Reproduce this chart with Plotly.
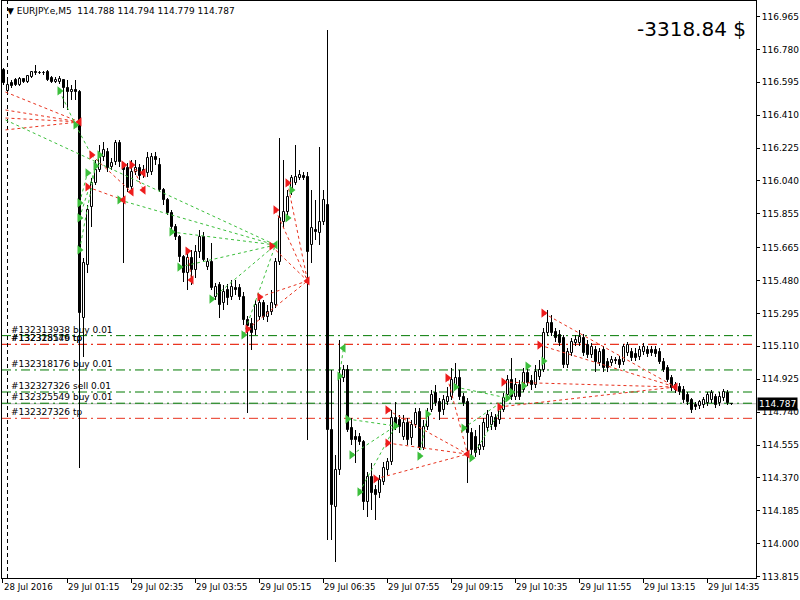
import plotly.graph_objects as go

# ---------------- candle data (EURJPY.e, M5) ----------------
bar_index = list(range(183))
open_ = [116.664,116.546,116.591,116.608,116.580,116.614,116.597,116.625,116.653,116.647,
116.648,116.653,116.619,116.597,116.597,116.608,116.563,116.540,116.552,116.540,
115.269,115.567,115.894,116.029,116.102,116.175,116.203,116.119,116.147,116.254,
116.130,116.113,116.006,116.091,116.113,116.102,116.085,116.091,116.175,116.130,
115.989,115.933,115.860,115.781,115.725,115.612,115.522,115.607,115.539,115.641,
115.725,115.556,115.584,115.387,115.455,115.354,115.427,115.387,115.438,115.438,
115.387,115.258,115.236,115.202,115.275,115.354,115.275,115.303,115.342,115.584,
115.809,115.866,115.989,116.029,116.057,116.068,116.062,115.680,115.764,115.747,
115.809,115.905,114.639,114.206,114.414,114.932,114.977,114.650,114.600,114.600,
114.572,114.234,114.375,114.302,114.285,114.347,114.414,114.459,114.707,114.695,
114.600,114.679,114.594,114.667,114.741,114.538,114.656,114.752,114.847,114.797,
114.752,114.797,114.825,114.892,114.932,114.825,114.797,114.622,114.600,114.527,
114.544,114.650,114.667,114.707,114.695,114.752,114.836,114.920,114.825,114.892,
114.864,114.960,114.915,114.892,114.937,114.977,115.185,115.241,115.191,115.174,
115.157,115.005,115.072,115.129,115.129,115.157,115.117,115.061,115.089,115.016,
115.089,115.022,115.016,115.033,115.033,115.022,115.072,115.078,115.067,115.050,
115.078,115.089,115.089,115.087,115.078,115.022,114.988,114.932,114.892,114.881,
114.864,114.836,114.808,114.780,114.774,114.780,114.791,114.808,114.825,114.791,
114.819,114.847,114.788]
high = [116.675,116.608,116.608,116.619,116.625,116.619,116.636,116.659,116.692,116.659,
116.659,116.664,116.630,116.625,116.630,116.614,116.608,116.580,116.608,116.552,
115.607,115.905,116.057,116.158,116.242,116.259,116.226,116.169,116.270,116.270,
116.147,116.141,116.158,116.158,116.136,116.130,116.203,116.197,116.203,116.169,
116.000,115.944,115.877,115.798,115.736,115.624,115.652,115.652,115.680,115.764,
115.753,115.607,115.691,115.466,115.472,115.455,115.461,115.483,115.483,115.461,
115.416,115.281,115.269,115.370,115.382,115.370,115.342,115.427,115.607,116.282,
116.158,115.989,116.074,116.242,116.102,116.091,116.091,115.989,115.933,116.231,
115.989,116.889,114.977,114.499,115.145,115.005,115.005,114.707,114.639,114.622,
114.583,114.403,114.454,114.330,114.386,114.459,114.482,114.752,114.797,114.724,
114.724,114.707,114.695,114.763,114.763,114.695,114.763,114.864,114.892,114.819,
114.836,114.881,114.988,115.016,114.977,114.847,114.819,114.650,114.639,114.667,
114.707,114.752,114.741,114.729,114.780,114.847,114.949,115.044,114.932,114.920,
114.988,114.988,114.949,115.005,115.033,115.213,115.314,115.286,115.213,115.202,
115.174,115.100,115.157,115.174,115.202,115.179,115.145,115.129,115.112,115.100,
115.112,115.044,115.056,115.050,115.056,115.123,115.134,115.100,115.100,115.112,
115.129,115.112,115.112,115.110,115.100,115.044,115.005,114.949,114.909,114.904,
114.887,114.853,114.819,114.797,114.808,114.825,114.853,114.864,114.842,114.853,
114.870,114.864,114.794]
low = [116.580,116.535,116.563,116.574,116.574,116.591,116.591,116.619,116.636,116.642,
116.636,116.602,116.591,116.591,116.585,116.450,116.439,116.495,116.495,114.426,
115.050,115.522,115.781,116.017,116.091,116.150,116.091,116.102,116.130,116.119,
115.579,115.978,115.989,116.074,116.046,116.057,116.062,116.074,116.130,115.978,
115.905,115.849,115.764,115.708,115.584,115.472,115.427,115.455,115.494,115.607,
115.584,115.539,115.427,115.370,115.269,115.314,115.342,115.370,115.399,115.370,
115.230,114.735,115.089,115.174,115.258,115.258,115.247,115.286,115.325,115.567,
115.775,115.849,115.961,116.017,116.046,116.046,114.583,115.579,115.708,115.680,
115.792,114.021,114.021,113.897,114.386,114.909,114.628,114.555,114.454,114.555,
114.189,114.150,114.189,114.133,114.257,114.330,114.386,114.442,114.639,114.622,
114.583,114.555,114.555,114.650,114.527,114.527,114.639,114.741,114.774,114.695,
114.724,114.780,114.808,114.875,114.808,114.774,114.341,114.499,114.487,114.499,
114.527,114.628,114.639,114.639,114.673,114.741,114.819,114.808,114.808,114.808,
114.853,114.887,114.864,114.875,114.920,114.966,115.168,115.168,115.134,115.112,
114.988,114.988,115.056,115.112,115.112,115.056,115.044,115.044,114.966,114.999,
114.966,114.966,114.999,115.011,114.988,115.005,115.056,115.027,115.027,115.033,
115.061,115.050,115.056,115.050,115.011,114.966,114.909,114.859,114.847,114.836,
114.791,114.780,114.735,114.752,114.757,114.763,114.774,114.791,114.763,114.774,
114.802,114.780,114.779]
close = [116.591,116.580,116.574,116.580,116.614,116.597,116.630,116.653,116.647,116.648,
116.647,116.608,116.597,116.608,116.614,116.563,116.540,116.552,116.540,115.297,
115.579,115.877,116.029,116.102,116.175,116.214,116.113,116.141,116.254,116.147,
116.102,116.000,116.091,116.113,116.068,116.074,116.169,116.175,116.158,115.989,
115.933,115.860,115.781,115.725,115.612,115.522,115.607,115.539,115.641,115.725,
115.595,115.584,115.438,115.444,115.342,115.416,115.382,115.444,115.427,115.387,
115.258,115.224,115.185,115.342,115.354,115.275,115.303,115.354,115.584,115.832,
115.866,115.950,116.057,116.062,116.074,116.057,115.641,115.775,115.753,115.809,
115.933,114.639,114.217,114.414,114.937,114.977,114.639,114.583,114.583,114.572,
114.234,114.375,114.285,114.274,114.358,114.426,114.459,114.707,114.667,114.656,
114.679,114.583,114.667,114.735,114.538,114.656,114.735,114.836,114.791,114.741,
114.808,114.825,114.920,114.932,114.825,114.791,114.622,114.527,114.510,114.555,
114.679,114.724,114.712,114.656,114.763,114.819,114.920,114.825,114.892,114.825,
114.960,114.904,114.892,114.966,114.977,115.185,115.241,115.185,115.157,115.129,
115.005,115.078,115.134,115.145,115.162,115.072,115.061,115.106,115.022,115.078,
114.988,114.988,115.033,115.027,115.005,115.106,115.117,115.044,115.044,115.089,
115.106,115.067,115.072,115.065,115.022,114.977,114.920,114.875,114.864,114.853,
114.808,114.797,114.752,114.769,114.797,114.808,114.836,114.847,114.780,114.825,
114.853,114.791,114.787]

# ---------------- axis labels ----------------
time_tick_bars = [0, 16, 32, 48, 64, 80, 96, 112, 128, 144, 160, 176]
time_tick_labels = ["28 Jul 2016", "29 Jul 01:15", "29 Jul 02:35", "29 Jul 03:55",
                    "29 Jul 05:15", "29 Jul 06:35", "29 Jul 07:55", "29 Jul 09:15",
                    "29 Jul 10:35", "29 Jul 11:55", "29 Jul 13:15", "29 Jul 14:35"]
price_ticks = [116.965, 116.780, 116.595, 116.410, 116.225, 116.040, 115.855, 115.665,
               115.480, 115.295, 115.110, 114.925, 114.740, 114.555, 114.370, 114.185,
               114.000, 113.815]
day_separator_bar = 1

# ---------------- order lines ----------------
order_labels = ["#132313938 buy 0.01", "#132318176 tp", "#132325549 tp", "#132318176 buy 0.01",
                "#132327326 sell 0.01", "#132325549 buy 0.01", "#132327326 tp"]
order_prices = [115.170, 115.121, 115.121, 114.977, 114.853, 114.790, 114.705]
order_kinds = ["open", "tp", "tp", "open", "open", "open", "tp"]
bid_price = 114.787
pnl_text = "-3318.84 $"
header_text = "EURJPY.e,M5  114.788 114.794 114.779 114.787"

# ---------------- trade history (open bar, open price, close bar, close price) ----------------
sell_x0 = [0.5, 0.5, 0.5, 0.5, 22, 21, 30, 32, 46, 64, 61, 67, 68, 71, 96, 96, 93, 111, 135, 134, 125, 124]
sell_p0 = [116.540, 116.439, 116.394, 116.327, 116.186, 116.006, 116.130, 116.130, 115.646, 115.387,
           115.207, 115.674, 115.877, 116.029, 114.752, 114.566, 114.364, 114.932, 115.297, 115.117,
           114.909, 114.769]
sell_x1 = [19, 19, 19, 19, 32, 30, 35, 35, 47, 76, 76, 76, 76, 76, 116, 116, 116, 116, 168, 168, 168, 168]
sell_p1 = [116.372, 116.372, 116.372, 116.372, 115.978, 115.933, 116.085, 115.989, 115.483, 115.478,
           115.478, 115.478, 115.478, 115.478, 114.504, 114.504, 114.504, 114.504, 114.881, 114.881,
           114.881, 114.881]
buy_x0 = [14, 0.5, 29, 42, 44, 52, 60, 18, 19, 19, 19, 84, 86, 87, 89, 104, 113, 115, 117]
buy_p0 = [116.546, 116.383, 115.933, 115.753, 115.556, 115.376, 115.174, 116.355, 115.916, 115.832,
          115.652, 114.943, 114.701, 114.499, 114.291, 114.493, 114.881, 114.650, 114.482]
buy_x1 = [18, 68, 68, 68, 68, 68, 68, 22, 21, 24, 23, 85, 98, 98, 98, 106, 126, 126, 127]
buy_p1 = [116.355, 115.680, 115.680, 115.680, 115.680, 115.680, 115.680, 116.186, 116.085, 116.186,
          116.124, 115.100, 114.662, 114.662, 114.662, 114.729, 114.819, 114.819, 114.853]

# arrows
green_right_bar = [14, 18, 24, 23, 21, 19, 19, 19, 29, 42, 44, 52, 60, 71, 72, 84, 86, 98, 87, 89,
                   104, 106, 113, 115, 117, 126, 127, 130, 131, 135]
green_right_price = [116.546, 116.355, 116.186, 116.124, 116.085, 115.916, 115.832, 115.652, 115.933,
                     115.753, 115.556, 115.376, 115.174, 115.832, 115.989, 114.943, 114.701, 114.662,
                     114.499, 114.291, 114.493, 114.729, 114.881, 114.650, 114.482, 114.819, 114.853,
                     114.887, 114.999, 115.027]
green_left_bar = [68, 85]
green_left_price = [115.680, 115.100]
red_right_bar = [22, 21, 30, 32, 46, 64, 61, 67, 68, 71, 96, 96, 93, 111, 125, 124, 135, 134]
red_right_price = [116.186, 116.006, 116.130, 116.130, 115.646, 115.387, 115.207, 115.674, 115.877,
                   116.029, 114.752, 114.566, 114.364, 114.932, 114.909, 114.769, 115.297, 115.117]
red_left_bar = [19, 30, 35, 35, 32, 47, 76, 116, 168]
red_left_price = [116.372, 115.933, 116.085, 115.989, 115.978, 115.483, 115.478, 114.504, 114.881]

# ---------------- styling ----------------
FONT = "DejaVu Sans"
GREEN_LINE = "#007a00"
RED_LINE = "#e8321e"
GREEN_MARK = "#3cbf3c"
RED_MARK = "#ee1c1c"


def seg_xy(x0, p0, x1, p1):
    xs, ys = [], []
    for a, b, c, d in zip(x0, p0, x1, p1):
        xs += [a, c, None]
        ys += [b, d, None]
    return xs, ys


fig = go.Figure()

# bid line (under everything)
fig.add_shape(type="line", xref="paper", x0=0, x1=1, yref="y", y0=bid_price, y1=bid_price,
              line=dict(color="#b8b8b8", width=1), layer="below")

# order lines
for lbl, pr, kind in zip(order_labels, order_prices, order_kinds):
    col = GREEN_LINE if kind == "open" else RED_LINE
    fig.add_shape(type="line", xref="paper", x0=0, x1=1, yref="y", y0=pr, y1=pr,
                  line=dict(color=col, width=1, dash="9px,4px,2px,4px"), layer="below")
    fig.add_annotation(x=1.3, y=pr, xref="x", yref="y", text=lbl, showarrow=False,
                       xanchor="left", yanchor="bottom", yshift=-1,
                       font=dict(family=FONT, size=9, color="black"))

# day separator
fig.add_shape(type="line", xref="x", x0=day_separator_bar, x1=day_separator_bar, yref="paper",
              y0=0, y1=1, line=dict(color="black", width=1, dash="4px,3px"), layer="below")

# candles: wicks (thin bars low->high) then bodies (open->close)
wick_len = [h - l for h, l in zip(high, low)]
body_len = [c - o for o, c in zip(open_, close)]
body_col = ["white" if c >= o else "black" for o, c in zip(open_, close)]
fig.add_trace(go.Bar(x=bar_index, y=wick_len, base=low, width=0.25,
                     marker=dict(color="black", line=dict(width=0)),
                     hoverinfo="skip", showlegend=False))
fig.add_trace(go.Bar(x=bar_index, y=body_len, base=open_, width=0.5,
                     marker=dict(color=body_col, line=dict(color="black", width=1)),
                     hoverinfo="skip", showlegend=False))

# trade connecting lines
sx, sy = seg_xy(sell_x0, sell_p0, sell_x1, sell_p1)
fig.add_trace(go.Scatter(x=sx, y=sy, mode="lines", showlegend=False, hoverinfo="skip",
                         line=dict(color=RED_LINE, width=1, dash="3px,3px")))
bx, by = seg_xy(buy_x0, buy_p0, buy_x1, buy_p1)
fig.add_trace(go.Scatter(x=bx, y=by, mode="lines", showlegend=False, hoverinfo="skip",
                         line=dict(color=GREEN_MARK, width=1, dash="3px,3px")))

# arrows
for xs, ys, sym, col in [(green_right_bar, green_right_price, "triangle-right", GREEN_MARK),
                         (green_left_bar, green_left_price, "triangle-left", GREEN_MARK),
                         (red_right_bar, red_right_price, "triangle-right", RED_MARK),
                         (red_left_bar, red_left_price, "triangle-left", RED_MARK)]:
    fig.add_trace(go.Scatter(x=xs, y=ys, mode="markers", showlegend=False, hoverinfo="skip",
                             marker=dict(symbol=sym, size=8, color=col, line=dict(width=0))))

# x labels (left-aligned at tick like MT4)
for b, t in zip(time_tick_bars, time_tick_labels):
    fig.add_annotation(x=b, y=0, xref="x", yref="paper", text=t, showarrow=False,
                       xanchor="left", yanchor="top", xshift=-2, yshift=-2,
                       font=dict(family=FONT, size=8.6, color="black"))

# header & P/L
fig.add_annotation(x=0, y=1, xref="paper", yref="paper", text="\u25BC " + header_text.replace("  ", "\u00a0 "),
                   showarrow=False, xanchor="left", yanchor="top", xshift=3, yshift=-3,
                   font=dict(family=FONT, size=9, color="black"))
fig.add_annotation(x=1, y=1, xref="paper", yref="paper", text=pnl_text, showarrow=False,
                   xanchor="right", yanchor="top", xshift=-8, yshift=-14,
                   font=dict(family=FONT, size=20, color="black"))

# current price box
fig.add_annotation(x=1, y=bid_price, xref="paper", yref="y", text="%.3f" % bid_price, showarrow=False,
                   xanchor="left", yanchor="middle", xshift=1, bgcolor="black", borderpad=1,
                   font=dict(family=FONT, size=9, color="white"))

fig.update_layout(
    width=800, height=600,
    margin=dict(l=2, r=44, t=1, b=22),
    paper_bgcolor="white", plot_bgcolor="white",
    showlegend=False,
    barmode="overlay", bargap=0, bargroupgap=0,
    xaxis=dict(range=[-0.375, 188.125], showgrid=False, zeroline=False,
               tickvals=[-0.25] + time_tick_bars[1:], ticktext=[""] * len(time_tick_bars),
               ticks="outside", ticklen=4, tickcolor="black",
               showline=True, linecolor="black", linewidth=1, mirror=True),
    yaxis=dict(range=[113.807, 117.052], side="right", showgrid=False, zeroline=False,
               tickvals=price_ticks, ticktext=["%.3f" % v for v in price_ticks],
               ticks="outside", ticklen=3, tickcolor="black",
               tickfont=dict(family=FONT, size=9, color="black"),
               showline=True, linecolor="black", linewidth=1, mirror=True),
)

fig.write_html("out.html")
